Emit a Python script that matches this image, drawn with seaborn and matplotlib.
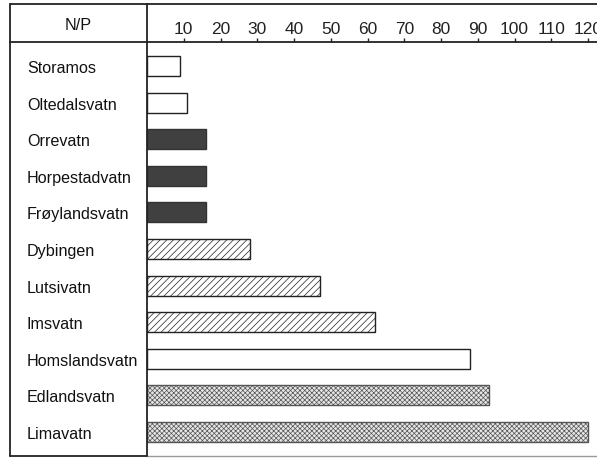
import matplotlib
matplotlib.use("Agg")
import matplotlib.pyplot as plt
import seaborn as sns
import pandas as pd
from matplotlib.lines import Line2D

lakes = ["Storamos", "Oltedalsvatn", "Orrevatn", "Horpestadvatn", "Frøylandsvatn",
         "Dybingen", "Lutsivatn", "Imsvatn", "Homslandsvatn", "Edlandsvatn", "Limavatn"]
np_ratio = [9, 11, 16, 16, 16, 28, 47, 62, 88, 93, 120]
group = ["open", "open", "dark", "dark", "dark", "hatch", "hatch", "hatch", "open", "dots", "dots"]
tick_values = [10, 20, 30, 40, 50, 60, 70, 80, 90, 100, 110, 120]
header = "N/P"

sns.set_style("white")
plt.rcParams["font.family"] = ["Liberation Sans", "DejaVu Sans"]
plt.rcParams["hatch.linewidth"] = 0.5

W, H = 597, 460
fig = plt.figure(figsize=(W / 100, H / 100), dpi=100)
x0, x1, ytop, ybot = 147, 597, 43, 457
ax = fig.add_axes([x0 / W, (H - ybot) / H, (x1 - x0) / W, (ybot - ytop) / H])

df = pd.DataFrame({"lake": lakes, "np": np_ratio, "group": group})
face = {"open": "white", "dark": "#404040", "hatch": "white", "dots": "#e6e6e6"}
hatch = {"open": None, "dark": None, "hatch": "/////", "dots": "xxxxxxx"}
pal = {l: face[g] for l, g in zip(lakes, group)}

sns.barplot(data=df, x="np", y="lake", hue="lake", palette=pal, legend=False,
            order=lakes, hue_order=lakes, width=0.55, edgecolor="#222222",
            linewidth=1.0, saturation=1, ax=ax)

for cont, g in zip(ax.containers, group):
    for p in cont:
        if hatch[g]:
            p.set_hatch(hatch[g])
        if g == "dark":
            p.set_edgecolor("#333333")
        if g == "dots":
            p.set_edgecolor("#555555")

ax.set_xlim(0, (x1 - x0) / 3.675)
ax.set_ylim(10.656, -0.656)
ax.set_xlabel("")
ax.set_ylabel("")

ax.xaxis.tick_top()
ax.set_xticks(tick_values)
ax.set_xticklabels([str(v) for v in tick_values], fontsize=12.5)
ax.tick_params(axis="x", direction="out", length=3, width=1, pad=1.5, colors="#222222")
ax.tick_params(axis="y", length=0, pad=86.4)
for t in ax.get_yticklabels():
    t.set_ha("left")
    t.set_fontsize(11.6)
    t.set_color("#111111")

ax.spines["right"].set_visible(False)
ax.spines["top"].set_linewidth(1.3)
ax.spines["left"].set_linewidth(1.3)
ax.spines["bottom"].set_linewidth(1.0)
ax.spines["bottom"].set_color("#999999")
for s in ["top", "left"]:
    ax.spines[s].set_color("#222222")

def fline(xa, ya, xb, yb, lw=1.3, c="#222222"):
    fig.add_artist(Line2D([xa / W, xb / W], [1 - ya / H, 1 - yb / H], lw=lw, color=c))

fline(10, 5, 597, 5)          # top border
fline(10, 5, 10, 457)         # left border
fline(147, 5, 147, 43)        # divider in header
fline(10, 43, 147, 43)        # header line, left column
fline(10, 457, 147, 457)      # bottom line, left column

fig.text(78 / W, 1 - 25 / H, header, ha="center", va="center", fontsize=11.6, color="#111111")

fig.savefig("out.png", dpi=100)
